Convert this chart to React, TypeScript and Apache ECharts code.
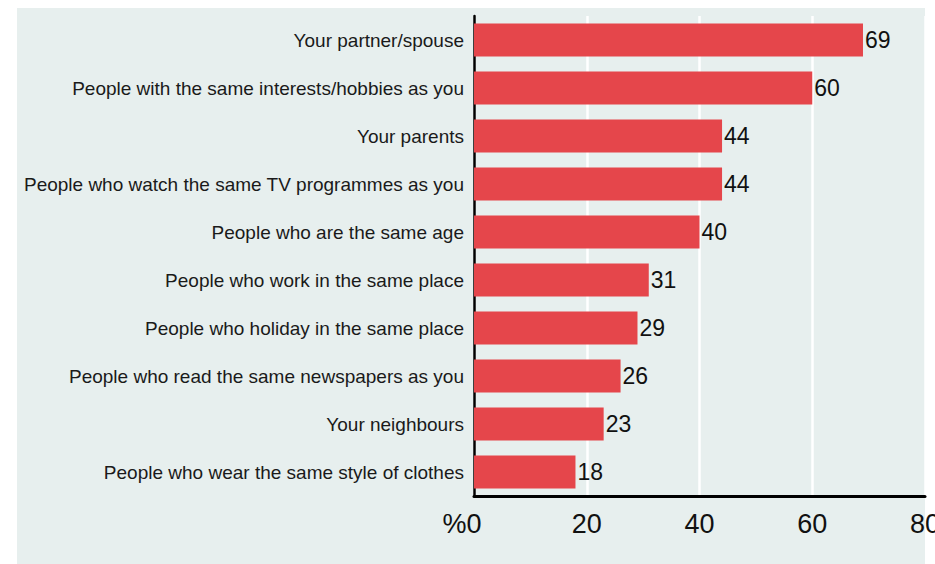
import React, { useEffect, useRef } from "react";
import * as echarts from "echarts";

const categories = [
  "Your partner/spouse",
  "People with the same interests/hobbies as you",
  "Your parents",
  "People who watch the same TV programmes as you",
  "People who are the same age",
  "People who work in the same place",
  "People who holiday in the same place",
  "People who read the same newspapers as you",
  "Your neighbours",
  "People who wear the same style of clothes",
];
const values = [69, 60, 44, 44, 40, 31, 29, 26, 23, 18];
const xTicks = [0, 20, 40, 60, 80];

export default function App() {
  const ref = useRef<HTMLDivElement>(null);
  useEffect(() => {
    if (!ref.current) return;
    const chart = echarts.init(ref.current, undefined, { renderer: "svg" });
    chart.setOption({
      animation: false,
      backgroundColor: "#ffffff",
      textStyle: { fontFamily: "'Liberation Sans', Arial, Helvetica, sans-serif" },
      graphic: [
        {
          type: "rect",
          z: -1,
          silent: true,
          shape: { x: 17, y: 8, width: 908, height: 556 },
          style: { fill: "#e7efee" },
        },
      ],
      grid: {
        left: 474,
        right: 10,
        top: 16,
        bottom: 68,
        containLabel: false,
        outerBoundsMode: "none",
      },
      xAxis: {
        type: "value",
        min: xTicks[0],
        max: xTicks[xTicks.length - 1],
        interval: 20,
        axisLine: { show: true, lineStyle: { color: "#000", width: 3 } },
        axisTick: { show: false },
        splitLine: { show: true, lineStyle: { color: "#ffffff", width: 2.5 } },
        axisLabel: {
          fontSize: 27,
          color: "#111",
          margin: 14,
          hideOverlap: false,
          formatter: (v: number) => (v === 0 ? "{z|%0}" : String(v)),
          rich: {
            z: { fontSize: 27, color: "#111", padding: [0, 24, 0, 0] },
          },
        },
      },
      yAxis: {
        type: "category",
        inverse: true,
        data: categories,
        axisLine: { show: true, lineStyle: { color: "#000", width: 2.5 } },
        axisTick: { show: false },
        axisLabel: { fontSize: 19, color: "#1a1a1a", margin: 10 },
      },
      series: [
        {
          type: "bar",
          data: values,
          barWidth: 33,
          itemStyle: { color: "#e5464b" },
          label: {
            show: true,
            position: "right",
            distance: 2,
            fontSize: 23,
            color: "#111",
          },
        },
      ],
    });
    return () => chart.dispose();
  }, []);
  return (
    <div
      ref={ref}
      style={{ position: "absolute", left: 0, top: 0, width: 935, height: 564 }}
    />
  );
}
